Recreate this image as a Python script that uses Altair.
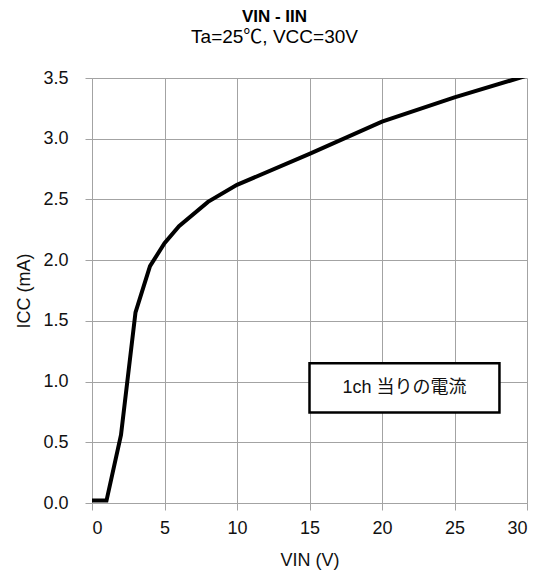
import altair as alt
import pandas as pd

# Data
vin = [0, 1, 2, 3, 4, 5, 6, 8, 10, 15, 20, 25, 30]
icc = [0.02, 0.02, 0.56, 1.57, 1.95, 2.14, 2.28, 2.48, 2.62, 2.875, 3.14, 3.34, 3.52]

x_ticks = [0, 5, 10, 15, 20, 25, 30]
y_ticks = [0.0, 0.5, 1.0, 1.5, 2.0, 2.5, 3.0, 3.5]

note_text = ["1ch 当りの電流"]
note_x1 = [15.0]
note_x2 = [28.1]
note_y1 = [0.745]
note_y2 = [1.15]

df = pd.DataFrame({"vin": vin, "icc": icc})
note = pd.DataFrame({
    "label": note_text,
    "x1": note_x1, "x2": note_x2, "y1": note_y1, "y2": note_y2,
    "xc": [(a + b) / 2 for a, b in zip(note_x1, note_x2)],
    "yc": [(a + b) / 2 for a, b in zip(note_y1, note_y2)],
})

FONT = "Liberation Sans, Arial, Noto Sans CJK JP"
GRID = "#a3a3a3"

xscale = alt.Scale(domain=[0, 30], nice=False, zero=False)
yscale = alt.Scale(domain=[0, 3.5], nice=False, zero=False)

xaxis = alt.Axis(
    title="VIN (V)", values=x_ticks, format="d",
    labelFontSize=18, titleFontSize=18, labelFont=FONT, titleFont=FONT,
    labelColor="#111111", titleColor="#111111", titleFontWeight="normal",
    tickSize=7, labelPadding=9, grid=True, gridColor=GRID, gridWidth=1,
    domainColor=GRID, tickColor=GRID,
    titleY=62, titleBaseline="alphabetic",
)
yaxis = alt.Axis(
    title="ICC (mA)", values=y_ticks, format=".1f",
    labelFontSize=18, titleFontSize=18, labelFont=FONT, titleFont=FONT,
    labelColor="#111111", titleColor="#111111", titleFontWeight="normal",
    tickSize=7, labelPadding=17, grid=True, gridColor=GRID, gridWidth=1,
    domainColor=GRID, tickColor=GRID,
    titleX=-63, titleBaseline="alphabetic",
)

line = alt.Chart(df).mark_line(color="black", strokeWidth=4, clip=True).encode(
    x=alt.X("vin:Q", scale=xscale, axis=xaxis),
    y=alt.Y("icc:Q", scale=yscale, axis=yaxis),
)

box = alt.Chart(note).mark_rect(fill="white", stroke="black", strokeWidth=2.5).encode(
    x=alt.X("x1:Q", scale=xscale), x2="x2:Q",
    y=alt.Y("y1:Q", scale=yscale), y2="y2:Q",
)

txt = alt.Chart(note).mark_text(font=FONT, fontSize=18, color="#111111",
                                 align="center", baseline="middle").encode(
    x=alt.X("xc:Q", scale=xscale),
    y=alt.Y("yc:Q", scale=yscale),
    text="label:N",
)

chart = alt.layer(line, box, txt).properties(
    width=435, height=425,
    autosize=alt.AutoSizeParams(type="none"),
    padding={"left": 84, "top": 70, "right": 13, "bottom": 70},
    title=alt.TitleParams(
        text="VIN  - IIN", subtitle="Ta=25℃, VCC=30V",
        font=FONT, subtitleFont=FONT, fontSize=17, fontWeight="bold",
        subtitleFontSize=19, subtitleFontWeight="normal",
        color="black", subtitleColor="black",
        anchor="middle", dx=-35, offset=21, subtitlePadding=2,
    ),
).configure_view(stroke="transparent")

chart.save("out.html", embed_options={"renderer": "svg", "actions": False})
